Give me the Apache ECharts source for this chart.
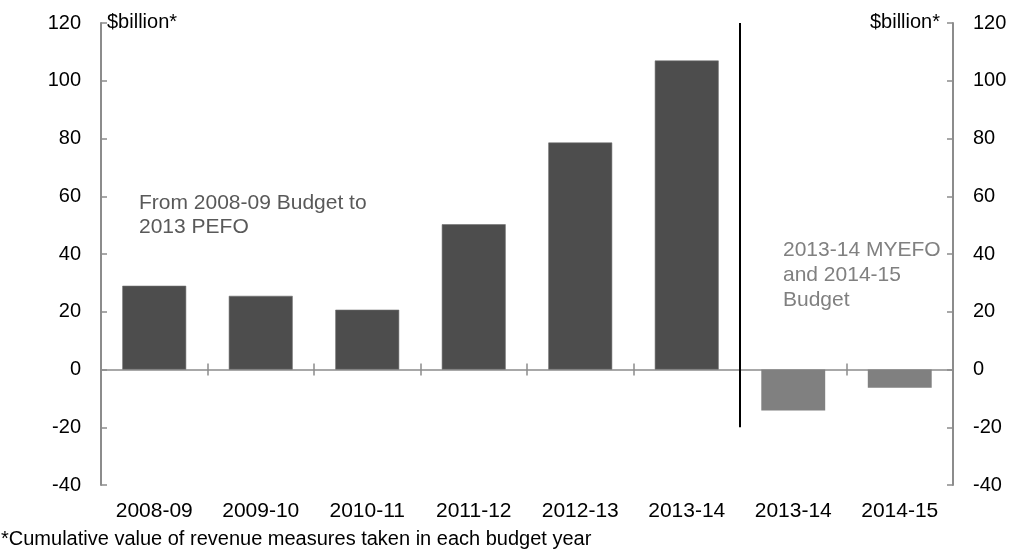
<!DOCTYPE html>
<html>
<head>
<meta charset="utf-8">
<script src="https://cdn.jsdelivr.net/npm/echarts@6/dist/echarts.min.js"></script>
<style>
html,body{margin:0;padding:0;background:#fff;}
#chart{width:1011px;height:554px;}
</style>
</head>
<body>
<div id="chart"></div>
<script>
const categories = ['2008-09','2009-10','2010-11','2011-12','2012-13','2013-14','2013-14','2014-15'];
const pefoValues = [29.0, 25.5, 20.7, 50.3, 78.6, 107.0, null, null];
const myefoValues = [null, null, null, null, null, null, -14.2, -6.3];
const dividerLine = [[6, 120], [6, -20]];
const yTicks = {min: -40, max: 120, interval: 20};
const unitLabel = '$billion*';
const footnote = '*Cumulative value of revenue measures taken in each budget year';
const noteLeft = 'From 2008-09 Budget to\n2013 PEFO';
const noteRight = '2013-14 MYEFO\nand 2014-15\nBudget';

const FONT = '"Liberation Sans", Arial, sans-serif';
const AX = '#8c8c8c';

const chart = echarts.init(document.getElementById('chart'), null, {renderer: 'canvas'});

const yCommon = {
  type: 'value', min: yTicks.min, max: yTicks.max, interval: yTicks.interval,
  splitLine: {show: false},
  axisLine: {show: true, lineStyle: {color: AX, width: 2}},
  axisTick: {show: true, inside: true, length: 6, lineStyle: {color: AX, width: 1.5}},
  axisLabel: {color: '#000', fontSize: 20, fontFamily: FONT, margin: 20}
};

chart.setOption({
  animation: false,
  backgroundColor: '#fff',
  grid: {left: 101, right: 58, top: 23, bottom: 69, containLabel: false},
  xAxis: [
    {
      type: 'category', data: categories, position: 'bottom',
      axisLine: {show: false, onZero: false}, axisTick: {show: false},
      axisLabel: {color: '#000', fontSize: 21, fontFamily: FONT, margin: 16, interval: 0}
    },
    {
      type: 'category', data: categories,
      axisLine: {show: true, onZero: true, onZeroAxisIndex: 0, lineStyle: {color: AX, width: 1.5}},
      axisTick: {show: true, length: 6, lineStyle: {color: AX, width: 1.5}},
      axisLabel: {show: false}
    },
    {
      type: 'category', data: categories,
      axisLine: {show: false, onZero: true, onZeroAxisIndex: 0},
      axisTick: {show: true, inside: true, length: 6, lineStyle: {color: AX, width: 1.5}},
      axisLabel: {show: false}
    },
    {
      type: 'value', min: 0, max: categories.length, show: false
    }
  ],
  yAxis: [
    Object.assign({}, yCommon, {position: 'left'}),
    Object.assign({}, yCommon, {position: 'right'})
  ],
  series: [
    {
      type: 'bar', data: pefoValues, barWidth: '60%', barGap: '-100%',
      xAxisIndex: 0, yAxisIndex: 0,
      itemStyle: {color: '#4d4d4d', borderColor: '#6e6e6e', borderWidth: 0.6}
    },
    {
      type: 'bar', data: myefoValues, barWidth: '60%', barGap: '-100%',
      xAxisIndex: 0, yAxisIndex: 0,
      itemStyle: {color: '#808080'}
    },
    {
      type: 'line', data: dividerLine, xAxisIndex: 3, yAxisIndex: 0,
      symbol: 'none', lineStyle: {color: '#000', width: 2}, z: 5
    }
  ],
  graphic: [
    {type: 'text', left: 107, top: 12, style: {text: unitLabel, fontSize: 20, fontFamily: FONT, fill: '#000'}},
    {type: 'text', right: 1011 - 940, top: 12, style: {text: unitLabel, fontSize: 20, fontFamily: FONT, fill: '#000'}},
    {type: 'text', left: 139, top: 191, style: {text: noteLeft, fontSize: 21, lineHeight: 24, fontFamily: FONT, fill: '#595959'}},
    {type: 'text', left: 783, top: 238, style: {text: noteRight, fontSize: 21, lineHeight: 25, fontFamily: FONT, fill: '#808080'}},
    {type: 'text', left: 1, top: 529, style: {text: footnote, fontSize: 20, fontFamily: FONT, fill: '#000'}}
  ]
});
</script>
</body>
</html>
